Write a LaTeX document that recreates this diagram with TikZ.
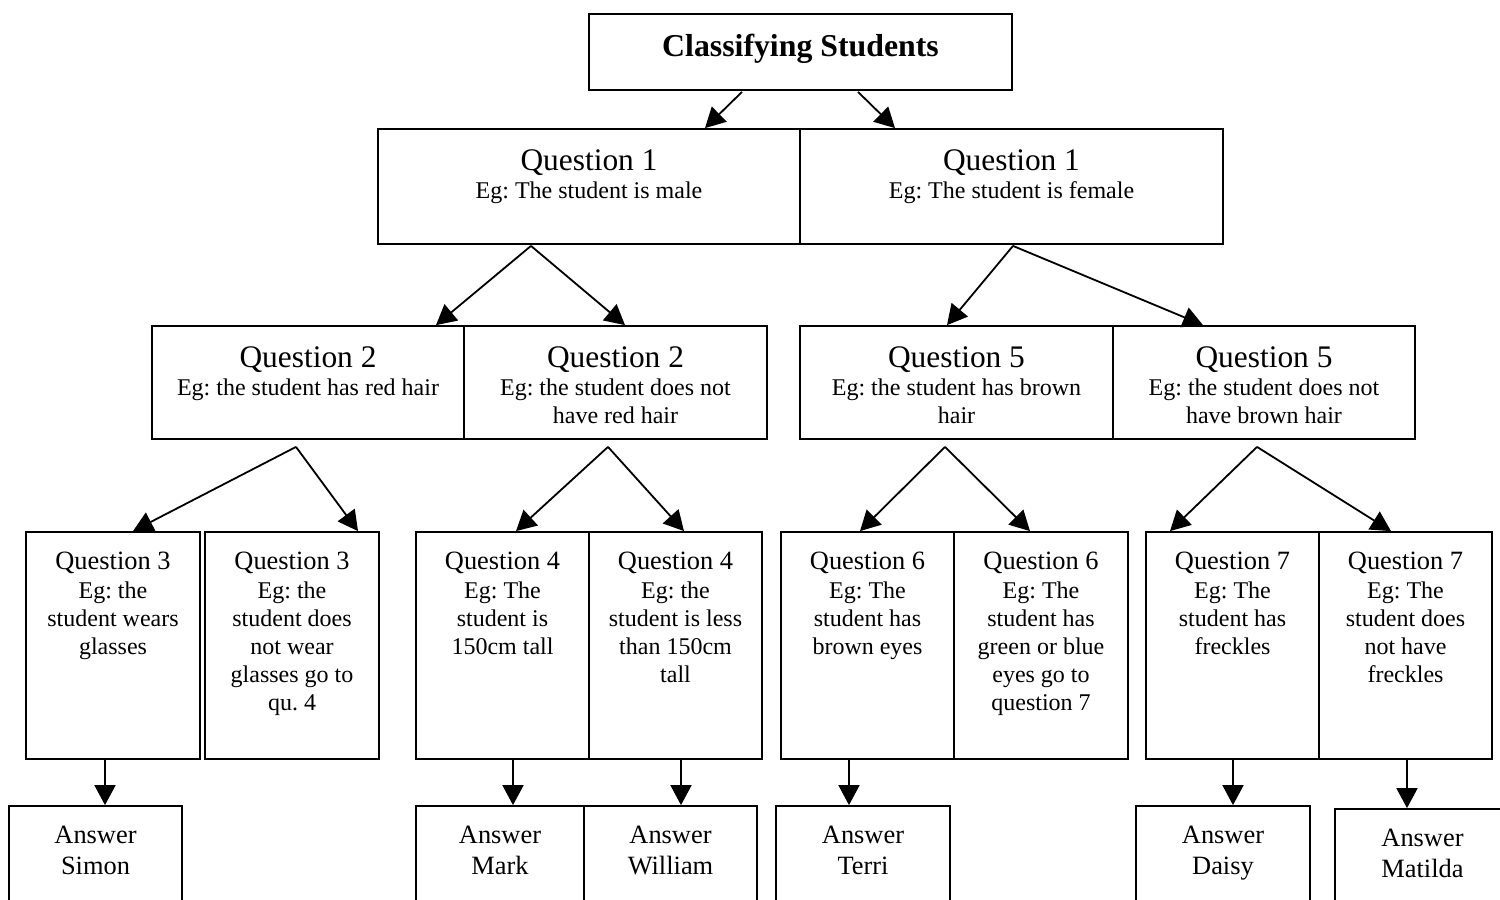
\documentclass[tikz,border=0pt]{standalone}
\usepackage{fontspec}
\setmainfont{Liberation Serif}
\usetikzlibrary{arrows.meta,calc}
\frenchspacing

\newcommand{\qtitle}{\fontsize{15.9}{18}\selectfont\bfseries}
\newcommand{\qlarge}{\fontsize{15.7}{17}\selectfont}
\newcommand{\qmid}{\fontsize{13.2}{15.5}\selectfont}
\newcommand{\qsmall}{\fontsize{12}{14.1}\selectfont}

\begin{document}
\begin{tikzpicture}
%Classifying students key
	[
	 %Styles
	 x=0.5pt, y=-0.5pt,
	 box/.style={rectangle,draw=black,line width=0.9pt,inner sep=0pt},
	 level1_box/.style={box,minimum height=57.5pt},
	 level2_box/.style={box,minimum height=56.5pt},
	 level3_box/.style={box,minimum height=113.5pt},
	 answer_box/.style={box,minimum height=60pt},
	 qtext/.style={label={[anchor=north,align=center,inner sep=0pt,yshift=-10.5pt,font=\qsmall]north:{#1}}},
	 atext/.style={label={[anchor=north,align=center,inner sep=0pt,yshift=-10.5pt,font=\qmid]north:{#1}}},
	 arr/.style={-{Triangle[length=10pt,width=10.5pt]},line width=0.9pt}
	]

	\useasboundingbox (0,0) rectangle (1500,900);

	%Node placement
	%Title
	\node (title) [box,minimum width=211.5pt,minimum height=38pt,
	  label={[anchor=north,inner sep=0pt,yshift=-10.5pt,font=\qtitle]north:Classifying Students}] at (800.5,52) {};

	%Level 1
	\node (q1male) [level1_box,minimum width=211pt,
	  qtext={{\qlarge Question 1}\\Eg: The student is male}] at (589,186.5) {};
	\node (q1female) [level1_box,minimum width=211.5pt,
	  qtext={{\qlarge Question 1}\\Eg: The student is female}] at (1011.5,186.5) {};

	%Level 2
	\node (q2red) [level2_box,minimum width=156pt,
	  qtext={{\qlarge Question 2}\\Eg: the student has red hair}] at (308,382.5) {};
	\node (q2notred) [level2_box,minimum width=151.5pt,
	  qtext={{\qlarge Question 2}\\Eg: the student does not\\have red hair}] at (615.5,382.5) {};
	\node (q5brown) [level2_box,minimum width=156.5pt,
	  qtext={{\qlarge Question 5}\\Eg: the student has brown\\hair}] at (956.5,382.5) {};
	\node (q5notbrown) [level2_box,minimum width=151pt,
	  qtext={{\qlarge Question 5}\\Eg: the student does not\\have brown hair}] at (1264,382.5) {};

	%Level 3
	\node (q3glasses) [level3_box,minimum width=87pt,
	  qtext={{\qmid Question 3}\\Eg: the\\student wears\\glasses}] at (113,645.5) {};
	\node (q3noglasses) [level3_box,minimum width=87pt,
	  qtext={{\qmid Question 3}\\Eg: the\\student does\\not wear\\glasses go to\\qu. 4}] at (292,645.5) {};
	\node (q4tall) [level3_box,minimum width=86.5pt,
	  qtext={{\qmid Question 4}\\Eg: The\\student is\\150cm tall}] at (502.5,645.5) {};
	\node (q4short) [level3_box,minimum width=86.5pt,
	  qtext={{\qmid Question 4}\\Eg: the\\student is less\\than 150cm\\tall}] at (675.5,645.5) {};
	\node (q6brown) [level3_box,minimum width=86.5pt,
	  qtext={{\qmid Question 6}\\Eg: The\\student has\\brown eyes}] at (867.5,645.5) {};
	\node (q6other) [level3_box,minimum width=87pt,
	  qtext={{\qmid Question 6}\\Eg: The\\student has\\green or blue\\eyes go to\\question 7}] at (1041,645.5) {};
	\node (q7freckles) [level3_box,minimum width=86.5pt,
	  qtext={{\qmid Question 7}\\Eg: The\\student has\\freckles}] at (1232.5,645.5) {};
	\node (q7nofreckles) [level3_box,minimum width=86.5pt,
	  qtext={{\qmid Question 7}\\Eg: The\\student does\\not have\\freckles}] at (1405.5,645.5) {};

	%Answers
	\node (simon) [answer_box,minimum width=86.5pt,atext={Answer\\Simon}] at (95.5,866) {};
	\node (mark) [answer_box,minimum width=84pt,atext={Answer\\Mark}] at (500,866) {};
	\node (william) [answer_box,minimum width=86.5pt,atext={Answer\\William}] at (670.5,866) {};
	\node (terri) [answer_box,minimum width=87pt,atext={Answer\\Terri}] at (863,866) {};
	\node (daisy) [answer_box,minimum width=87pt,atext={Answer\\Daisy}] at (1223,866) {};
	\node (matilda) [answer_box,minimum width=87.5pt,atext={Answer\\Matilda}] at (1422.5,869) {};

	%Edges
	\path[arr]
	  ($(title.south)+(-58.5,1)$) edge ($(q1male.north)+(116,0)$)
	  ($(title.south)+(57.5,1)$) edge ($(q1female.north)+(-116.5,0)$)
	  ($(q1male.south)+(-58,1)$) edge ($(q2red.north)+(128,0)$)
	  ($(q1male.south)+(-58,1)$) edge ($(q2notred.north)+(9.5,0)$)
	  ($(q1female.south)+(1.5,1)$) edge ($(q5brown.north)+(-9.5,0)$)
	  ($(q1female.south)+(1.5,1)$) edge ($(q5notbrown.north)+(-61,0)$)
	  ($(q2red.south)+(-12,7)$) edge ($(q3glasses.north)+(20,0)$)
	  ($(q2red.south)+(-12,7)$) edge ($(q3noglasses.north)+(66,0)$)
	  ($(q2notred.south)+(-7.5,7)$) edge ($(q4tall.north)+(13.5,0)$)
	  ($(q2notred.south)+(-7.5,7)$) edge ($(q4short.north)+(8.5,0)$)
	  ($(q5brown.south)+(-11.5,7)$) edge ($(q6brown.north)+(-7.5,0)$)
	  ($(q5brown.south)+(-11.5,7)$) edge ($(q6other.north)+(-11,0)$)
	  ($(q5notbrown.south)+(-7,7)$) edge ($(q7freckles.north)+(-62.5,0)$)
	  ($(q5notbrown.south)+(-7,7)$) edge ($(q7nofreckles.north)+(-14.5,0)$)
	  ($(q3glasses.south)+(-8,0)$) edge ($(simon.north)+(9.5,0)$)
	  ($(q4tall.south)+(10.5,0)$) edge ($(mark.north)+(13,0)$)
	  ($(q4short.south)+(5.5,0)$) edge ($(william.north)+(10.5,0)$)
	  ($(q6brown.south)+(-18.5,0)$) edge ($(terri.north)+(-14,0)$)
	  ($(q7freckles.south)+(0.5,0)$) edge ($(daisy.north)+(10,0)$)
	  ($(q7nofreckles.south)+(1.5,0)$) edge ($(matilda.north)+(-15.5,0)$);
\end{tikzpicture}
\end{document}
